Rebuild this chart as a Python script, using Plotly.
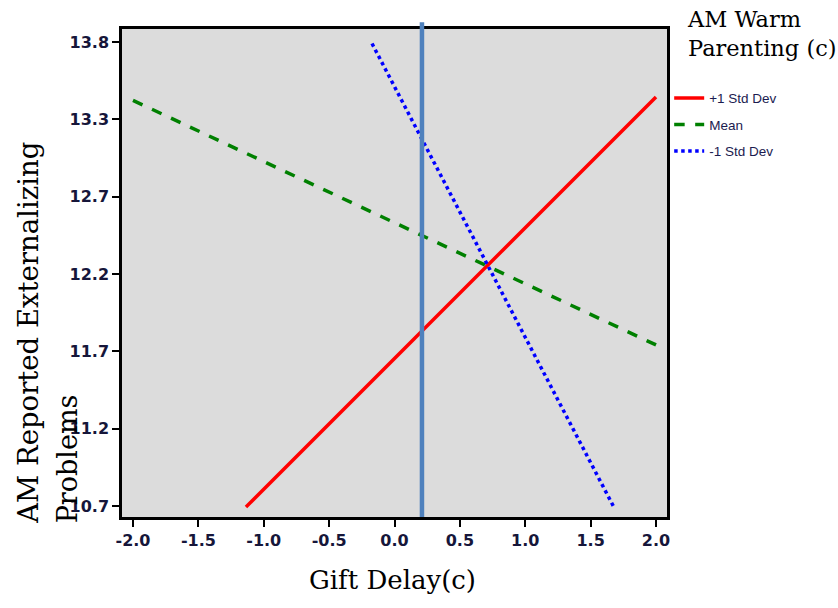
import plotly.graph_objects as go

# Data (simple slopes at levels of moderator)
series_names = ["+1 Std Dev", "Mean", "-1 Std Dev"]
plus1_x = [-1.136, 2.0]
plus1_y = [10.693, 13.433]
mean_x = [-2.0, 2.0]
mean_y = [13.41, 11.776]
minus1_x = [-0.172, 1.679]
minus1_y = [13.79, 10.69]
vline_x = 0.21

x_tickvals = [-2.0, -1.5, -1.0, -0.5, 0.0, 0.5, 1.0, 1.5, 2.0]
x_ticktext = ["-2.0", "-1.5", "-1.0", "-0.5", "0.0", "0.5", "1.0", "1.5", "2.0"]
y_tickvals = [10.7 + i * 3.1 / 6 for i in range(7)]
y_ticktext = ["10.7", "11.2", "11.7", "12.2", "12.7", "13.3", "13.8"]

tick_font = dict(family="DejaVu Sans, Liberation Sans, Arial", size=16, color="#16163a", weight="bold")
serif = "DejaVu Serif, Liberation Serif, serif"

fig = go.Figure()
fig.add_trace(go.Scatter(x=plus1_x, y=plus1_y, mode="lines", name=series_names[0],
                         legendgroup="a", line=dict(color="#FF0000", width=3.5)))
fig.add_trace(go.Scatter(x=mean_x, y=mean_y, mode="lines", name=series_names[1],
                         legendgroup="b", line=dict(color="#008000", width=3.5, dash="dash")))
fig.add_trace(go.Scatter(x=minus1_x, y=minus1_y, mode="lines", name=series_names[2],
                         legendgroup="c", line=dict(color="#0000FF", width=3.5, dash="dot")))

fig.add_shape(type="line", xref="x", yref="paper", x0=vline_x, x1=vline_x, y0=0, y1=1.014,
              line=dict(color="#4F81BD", width=4.5), layer="above")

fig.update_layout(
    width=838, height=608,
    margin=dict(l=122, r=171, t=29, b=91),
    paper_bgcolor="white", plot_bgcolor="#DCDCDC",
    showlegend=True,
    legend=dict(x=1.004, y=0.89, xanchor="left", yanchor="top",
                font=dict(family="Liberation Sans, Arial", size=13.5, color="#1b1b50"),
                tracegroupgap=6, bgcolor="rgba(0,0,0,0)", itemwidth=30),
    xaxis=dict(range=[-2.084, 2.084], tickvals=x_tickvals, ticktext=x_ticktext,
               tickfont=tick_font, ticks="outside", ticklen=7, tickwidth=2, tickcolor="black",
               showline=True, linecolor="black", linewidth=2.5, mirror=True,
               showgrid=False, zeroline=False),
    yaxis=dict(range=[10.6265, 13.887], tickvals=y_tickvals, ticktext=y_ticktext,
               tickfont=tick_font, ticks="outside", ticklen=7, tickwidth=2, tickcolor="black",
               showline=True, linecolor="black", linewidth=2.5, mirror=True,
               showgrid=False, zeroline=False),
)

fig.add_annotation(text="Gift Delay(c)", xref="paper", yref="paper", x=0.497, y=-0.129,
                   xanchor="center", yanchor="middle", showarrow=False,
                   font=dict(family=serif, size=26, color="black"))
fig.add_annotation(text="AM Reported Externalizing", xref="paper", yref="paper",
                   x=-0.1725, y=-0.018, xanchor="center", yanchor="bottom", textangle=-90,
                   showarrow=False, font=dict(family=serif, size=27.5, color="black"))
fig.add_annotation(text="Problems", xref="paper", yref="paper",
                   x=-0.1009, y=-0.018, xanchor="center", yanchor="bottom", textangle=-90,
                   showarrow=False, font=dict(family=serif, size=27, color="black"))
fig.add_annotation(text="AM Warm<br>Parenting (c)", xref="paper", yref="paper",
                   x=1.033, y=1.051, xanchor="left", yanchor="top", align="left",
                   showarrow=False, font=dict(family=serif, size=22.5, color="black"))

fig.write_html("out.html", config={"displayModeBar": False},
               post_script="document.body.style.margin='0';")
